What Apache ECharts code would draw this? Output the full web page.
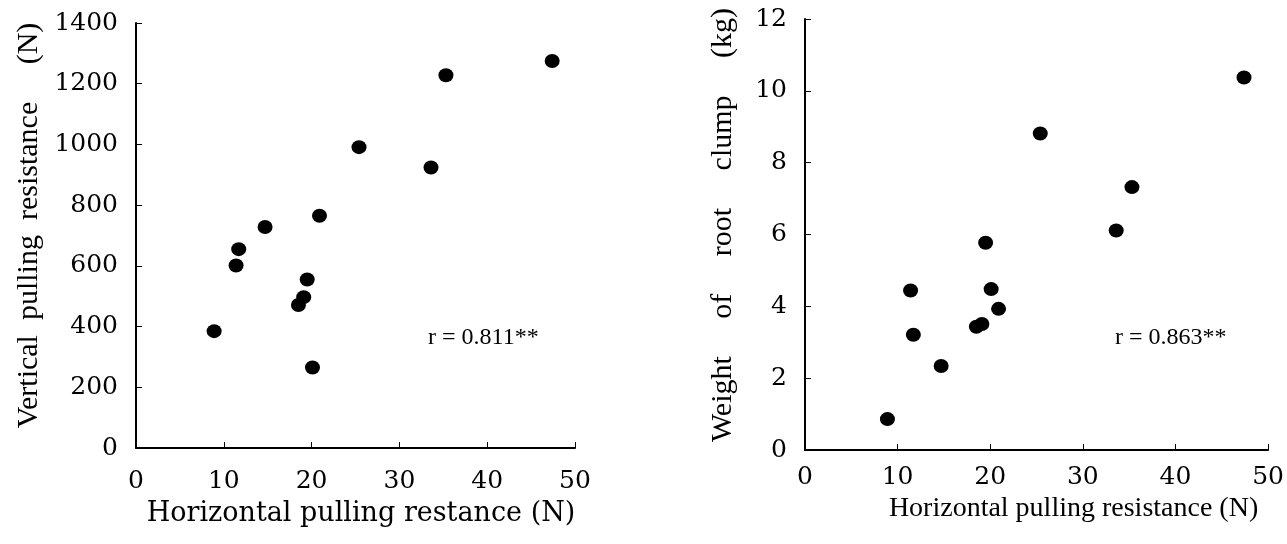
<!DOCTYPE html>
<html>
<head>
<meta charset="utf-8">
<script src="https://cdn.jsdelivr.net/npm/echarts@6/dist/echarts.min.js"></script>
<style>
  html, body { margin: 0; padding: 0; background: #fff; }
  #chart { width: 1287px; height: 544px; }
</style>
</head>
<body>
<div id="chart"></div>
<script>
// Horizontal pulling resistance (N) for each clump, shared by both panels
const horizontalResistance = [8.9, 11.4, 11.7, 14.7, 18.5, 19.1, 19.5, 20.1, 20.9, 25.4, 33.6, 35.3, 47.4];
// Vertical pulling resistance (N), same clump order
const verticalResistance = [385, 601, 655, 728, 471, 497, 555, 265, 765, 991, 924, 1228, 1275];
// Weight of root clump (kg), same clump order
const rootWeight = [0.86, 4.44, 3.21, 2.34, 3.43, 3.51, 5.77, 4.48, 3.93, 8.81, 6.11, 7.32, 10.37];

const leftPairs = horizontalResistance.map((x, i) => [x, verticalResistance[i]]);
const rightPairs = horizontalResistance.map((x, i) => [x, rootWeight[i]]);

const plain = v => String(v);
const tickFont = { fontFamily: 'DejaVu Serif', fontSize: 25, color: '#000', formatter: plain };
const axisLine = { show: true, lineStyle: { color: '#000', width: 2 } };
const axisTick = { show: true, inside: true, length: 6, lineStyle: { color: '#000', width: 1 } };

const chart = echarts.init(document.getElementById('chart'), null, { renderer: 'canvas' });
chart.setOption({
  animation: false,
  backgroundColor: '#fff',
  grid: [
    { left: 136, top: 23, width: 439, height: 425 },
    { left: 805, top: 19, width: 464, height: 431 }
  ],
  xAxis: [
    {
      gridIndex: 0, type: 'value', min: 0, max: 50, interval: 10,
      axisLine, axisTick, splitLine: { show: false },
      axisLabel: Object.assign({ margin: 21 }, tickFont),
      name: 'Horizontal pulling restance (N)', nameLocation: 'middle', nameGap: 52,
      nameTextStyle: { fontFamily: 'DejaVu Serif', fontSize: 27, color: '#000', padding: [0, 0, 0, 11] }
    },
    {
      gridIndex: 1, type: 'value', min: 0, max: 50, interval: 10,
      axisLine, axisTick, splitLine: { show: false },
      axisLabel: Object.assign({ margin: 15 }, tickFont),
      name: 'Horizontal pulling resistance (N)', nameLocation: 'middle', nameGap: 41,
      nameTextStyle: { fontFamily: 'Liberation Serif', fontSize: 28, color: '#000', padding: [0, 0, 0, 74] }
    }
  ],
  yAxis: [
    {
      gridIndex: 0, type: 'value', min: 0, max: 1400, interval: 200,
      axisLine, axisTick, splitLine: { show: false },
      axisLabel: Object.assign({ margin: 18 }, tickFont),
      name: 'Vertical  pulling  resistance     (N)', nameLocation: 'middle', nameRotate: 90, nameGap: 92,
      nameTextStyle: { fontFamily: 'Liberation Serif', fontSize: 30, color: '#000', padding: [0, 0, 0, 20] }
    },
    {
      gridIndex: 1, type: 'value', min: 0, max: 12, interval: 2,
      axisLine, axisTick, splitLine: { show: false },
      axisLabel: Object.assign({ margin: 18 }, tickFont),
      name: 'Weight     of     root     clump     (kg)', nameLocation: 'middle', nameRotate: 90, nameGap: 67,
      nameTextStyle: { fontFamily: 'Liberation Serif', fontSize: 30, color: '#000', padding: [0, 0, 0, 19] }
    }
  ],
  series: [
    {
      type: 'scatter', xAxisIndex: 0, yAxisIndex: 0, data: leftPairs,
      symbol: 'circle', symbolSize: [15, 14], itemStyle: { color: '#000', opacity: 1 }
    },
    {
      type: 'scatter', xAxisIndex: 1, yAxisIndex: 1, data: rightPairs,
      symbol: 'circle', symbolSize: [15, 14], itemStyle: { color: '#000', opacity: 1 }
    }
  ],
  graphic: [
    {
      type: 'text', left: 428, top: 326,
      style: { text: 'r = 0.811**', fontFamily: 'Liberation Serif', fontSize: 24, fill: '#000' }
    },
    {
      type: 'text', left: 1115, top: 326,
      style: { text: 'r = 0.863**', fontFamily: 'Liberation Serif', fontSize: 24, fill: '#000' }
    }
  ]
});
</script>
</body>
</html>
